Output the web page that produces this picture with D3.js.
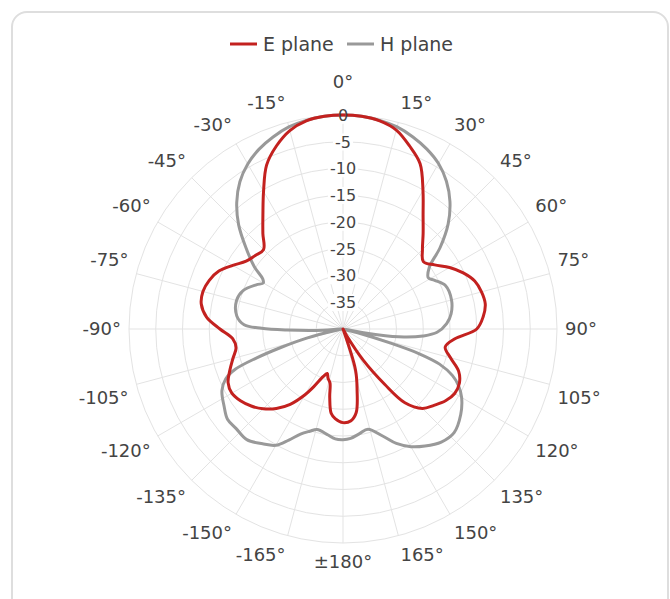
<!DOCTYPE html>
<html>
<head>
<meta charset="utf-8">
<script src="https://cdn.jsdelivr.net/npm/d3@7"></script>
<style>
  body { margin: 0; background: #fff; }
  svg { display: block; font-family: "DejaVu Sans", sans-serif; }
</style>
</head>
<body>
<svg id="polar_chart" width="670" height="599"></svg>
<script>
// E plane, angle (deg, clockwise from top) and level (dB)
const eAngles = [-175, -172, -169, -166.5, -163, -160.5, -157.5, -153, -150, -145, -140, -135, -130, -125, -120,
  -115, -110, -105, -100, -95, -90, -85, -80, -75, -70, -65, -60, -55, -50, -45, -40, -35, -30, -25, -20, -15, -10, -5,
  0, 5, 10, 15, 20, 25, 30, 35, 40, 45, 50, 55, 60, 65, 70, 75, 80, 85, 90, 95, 100, 105, 110, 115, 120, 125, 130,
  135, 140, 143, 147, 151, 155, 160, 163, 167, 171, 175, 180];
const eValues = [-23.2, -24.1, -27.0, -29.6, -30.4, -31.2, -30.4, -27.8, -25.8, -22.8, -20.6, -18.9, -17.6, -16.6, -16.0,
  -16.3, -17.5, -18.7, -19.7, -19.3, -17.0, -14.4, -13.1, -12.9, -13.4, -14.4, -16.2, -17.9, -18.6, -19.0, -16.7, -13.9, -10.3, -6.2, -3.6, -1.6, -0.5, -0.1,
  0, -0.1, -0.5, -1.5, -3.6, -5.9, -10.1, -13.9, -16.7, -19.0, -20.4, -19.1, -17.0, -15.2, -13.8, -13.2, -13.0, -13.7, -15.0, -19.0, -20.6, -19.2, -17.0, -16.0, -15.9, -16.6, -17.8,
  -19.0, -22.0, -27.0, -33.0, -38.5, -40, -40, -32, -28.3, -24.2, -22.8, -22.5];

// H plane
const hAngles = [-176, -172, -165.5, -162, -158, -154, -150, -145, -139, -133, -128, -123, -117, -113, -110.5,
  -108.5, -106.5, -104, -101, -97, -93, -91, -89.5, -87.5, -83, -75, -69, -63, -60, -58, -55, -50, -45, -40, -35, -30,
  -25, -20, -15, -10, -5, 0, 5, 10, 15, 20, 25, 30, 35, 40, 45, 50, 54.5, 59, 62, 67, 75, 82, 87, 92, 95, 97.5,
  99.5, 102, 104.5, 106.5, 108, 110, 113, 116, 120, 126, 133, 139, 145, 150, 155, 159.5, 166, 171, 176, 180];
const hValues = [-19.4, -20.0, -20.6, -19.9, -18.8, -16.9, -14.9, -13.8, -12.6, -12.7, -12.6, -13.5, -14.6, -16.2, -18.5,
  -23.0, -28, -33, -39, -40, -35, -29.5, -24.8, -21.5, -20.0, -19.4, -20.0, -21.8, -22.8, -22.3, -19.8, -16.3, -12.4, -9.1, -6.4, -4.4,
  -2.9, -1.8, -0.9, -0.4, -0.1, 0, -0.1, -0.4, -0.9, -1.8, -2.9, -4.3, -6.3, -8.9, -12.2, -16.3, -20.2, -21.4, -20.6, -19.2, -19.0, -19.6, -20.6, -22.4, -25, -28.5,
  -33.5, -40, -37, -31, -25, -20.8, -17.8, -16.0, -14.4, -12.8, -11.6, -12.0, -13.3, -14.6, -16.4, -18.6, -20.7, -20.2, -19.5, -19.3];

const radialTicks = [0, -5, -10, -15, -20, -25, -30, -35];
const angleTicks = [0, 15, 30, 45, 60, 75, 90, 105, 120, 135, 150, 165, 180, -165, -150, -135, -120, -105, -90, -75, -60, -45, -30, -15];
const angleLabels = ['0°', '15°', '30°', '45°', '60°', '75°', '90°', '105°', '120°', '135°', '150°', '165°', '±180°',
  '-165°', '-150°', '-135°', '-120°', '-105°', '-90°', '-75°', '-60°', '-45°', '-30°', '-15°'];

const seriesNames = ['E plane', 'H plane'];

const polarChart = {};

polarChart.option = {
  center: {x: 343, y: 329},
  radius: 214,
  color: d3.scaleOrdinal().domain(seriesNames).range(['#c3211f', '#999999']),
  gridColor: '#e3e3e3',
  textColor: '#444'
};

function translate(x, y) {
  return `translate(${x}, ${y})`;
};

const rad = deg => deg * Math.PI / 180;

polarChart.init = function(chartId) {
  const opt = polarChart.option;
  const svg = d3.select(`#${chartId}`);

  // card frame
  svg.append('rect')
    .attr('x', 12).attr('y', 12)
    .attr('width', 656).attr('height', 620)
    .attr('rx', 15)
    .style('fill', 'none')
    .style('stroke', '#dedede')
    .style('stroke-width', 2);

  polarChart.svg = svg.append('g').attr('transform', translate(opt.center.x, opt.center.y));
  polarChart.rScale = d3.scaleLinear().domain([-40, 0]).range([0, opt.radius]).clamp(true);

  polarChart.drawGrid();
  // label boxes hide the grid but not the curves
  const labelBoxes = polarChart.svg.append('g').attr('class', 'label-boxes');
  polarChart.drawLines();
  polarChart.drawRadialLabels(labelBoxes);
  polarChart.drawAngleLabels();
  polarChart.drawLegend(svg);
};

polarChart.drawGrid = () => {
  const opt = polarChart.option;
  const g = polarChart.svg.append('g').attr('class', 'grid');

  g.selectAll('circle')
    .data(radialTicks)
    .enter()
    .append('circle')
      .attr('r', d => polarChart.rScale(d))
      .style('fill', 'none')
      .style('stroke', opt.gridColor)
      .style('stroke-width', 1);

  g.selectAll('line')
    .data(angleTicks)
    .enter()
    .append('line')
      .attr('x1', 0).attr('y1', 0)
      .attr('x2', d => opt.radius * Math.sin(rad(d)))
      .attr('y2', d => -opt.radius * Math.cos(rad(d)))
      .style('stroke', opt.gridColor)
      .style('stroke-width', 1);
};

polarChart.drawLines = () => {
  const opt = polarChart.option;
  const line = d3.lineRadial()
    .angle(d => rad(d[0]))
    .radius(d => polarChart.rScale(d[1]))
    .curve(d3.curveCatmullRomClosed.alpha(0.5));

  const series = [
    {name: 'H plane', values: d3.zip(hAngles, hValues)},
    {name: 'E plane', values: d3.zip(eAngles, eValues)}
  ];

  polarChart.svg.selectAll('.line')
    .data(series)
    .enter()
    .append('path')
      .attr('class', 'line')
      .attr('d', s => line(s.values))
      .style('fill', 'none')
      .style('stroke', s => opt.color(s.name))
      .style('stroke-width', 3)
      .style('stroke-linejoin', 'round');
};

polarChart.drawRadialLabels = (boxLayer) => {
  const opt = polarChart.option;
  const texts = polarChart.svg.append('g').attr('class', 'radial-labels')
    .selectAll('text')
    .data(radialTicks)
    .enter()
    .append('text')
      .attr('y', d => -polarChart.rScale(d))
      .attr('text-anchor', 'middle')
      .attr('dy', '0.36em')
      .style('font-size', '16px')
      .style('fill', opt.textColor)
      .text(d => d);

  // white box behind each tick label
  texts.each(function() {
    const box = this.getBBox();
    boxLayer.append('rect')
      .attr('x', box.x - 2).attr('y', box.y + 1)
      .attr('width', box.width + 4).attr('height', box.height - 2)
      .style('fill', '#fff');
  });
};

polarChart.drawAngleLabels = () => {
  const opt = polarChart.option;
  const pad = opt.radius + 8;

  polarChart.svg.append('g').attr('class', 'angle-labels')
    .selectAll('text')
    .data(angleTicks)
    .enter()
    .append('text')
      .attr('x', d => pad * Math.sin(rad(d)))
      .attr('y', d => {
        const c = Math.cos(rad(d));
        let off = 0;
        if (c > 0.999) off = -25;
        else if (c > 0.01) off = -12;
        else if (c < -0.01) off = 11;
        return -pad * c + off;
      })
      .attr('dy', '0.36em')
      .attr('text-anchor', d => {
        const s = Math.sin(rad(d));
        return Math.abs(s) < 0.01 ? 'middle' : (s > 0 ? 'start' : 'end');
      })
      .style('font-size', '18px')
      .style('fill', opt.textColor)
      .text((d, i) => angleLabels[i]);
};

polarChart.drawLegend = (svg) => {
  const opt = polarChart.option;
  const items = [{name: 'E plane', x: 230}, {name: 'H plane', x: 347}];
  const legend = svg.append('g').attr('class', 'legend')
    .selectAll('g')
    .data(items)
    .enter()
    .append('g')
      .attr('transform', d => translate(d.x, 44));

  legend.append('line')
    .attr('x1', 0).attr('x2', 27)
    .style('stroke', d => opt.color(d.name))
    .style('stroke-width', 3);

  legend.append('text')
    .attr('x', 33)
    .attr('dy', '0.36em')
    .style('font-size', '19px')
    .style('fill', opt.textColor)
    .text(d => d.name);
};

polarChart.init('polar_chart');
</script>
</body>
</html>
